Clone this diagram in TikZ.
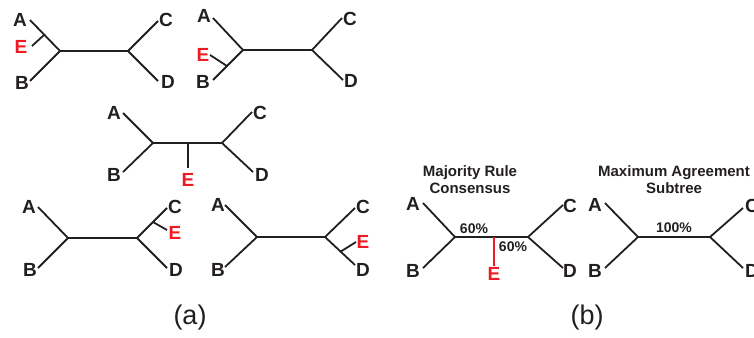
\documentclass[tikz,border=0pt]{standalone}
\usepackage{fontspec}
\setmainfont{Liberation Sans}
\definecolor{ink}{HTML}{231F20}
\definecolor{ered}{HTML}{ED1C24}
\begin{document}
\begin{tikzpicture}[x=1pt,y=-1pt,
  br/.style={draw=ink,line width=1.8pt},
  ebr/.style={draw=ered,line width=1.8pt},
  lab/.style={font=\fontsize{19}{19}\selectfont\bfseries,text=ink,inner sep=0pt},
  elab/.style={font=\fontsize{19}{19}\selectfont\bfseries,text=ered,inner sep=0pt},
  ttl/.style={font=\fontsize{15}{17}\selectfont\bfseries,text=ink,inner sep=0pt,align=center},
  pct/.style={font=\fontsize{14}{14}\selectfont\bfseries,text=ink,inner sep=0pt},
  captxt/.style={font=\fontsize{27}{27}\selectfont,text=ink,inner sep=0pt}]
\useasboundingbox (0,0) rectangle (754,337);
% ---------- tree 1
\coordinate (t1a) at (30,20); \coordinate (t1b) at (30,81);
\coordinate (t1l) at (60,51); \coordinate (t1r) at (128,51);
\coordinate (t1c) at (158,21); \coordinate (t1d) at (158,81);
\coordinate (t1ea) at (44,35); \coordinate (t1e) at (32,46);
\draw[br] (t1a) -- (t1l) -- (t1b); \draw[br] (t1l) -- (t1r);
\draw[br] (t1c) -- (t1r) -- (t1d); \draw[br] (t1ea) -- (t1e);
\node[lab] (l1a) at (20,20) {A}; \node[elab] (l1e) at (21,47) {E};
\node[lab] (l1b) at (22,83) {B}; \node[lab] (l1c) at (166,20) {C};
\node[lab] (l1d) at (168,82) {D};
% ---------- tree 2
\coordinate (t2a) at (213,18); \coordinate (t2b) at (213,80);
\coordinate (t2l) at (243,50); \coordinate (t2r) at (312,50);
\coordinate (t2c) at (342,18); \coordinate (t2d) at (343,80);
\coordinate (t2ea) at (227,66); \coordinate (t2e) at (210,55);
\draw[br] (t2a) -- (t2l) -- (t2b); \draw[br] (t2l) -- (t2r);
\draw[br] (t2c) -- (t2r) -- (t2d); \draw[br] (t2ea) -- (t2e);
\node[lab] (l2a) at (204,16) {A}; \node[elab] (l2e) at (203,55) {E};
\node[lab] (l2b) at (203,82) {B}; \node[lab] (l2c) at (350,19) {C};
\node[lab] (l2d) at (351,81) {D};
% ---------- tree 3
\coordinate (t3a) at (123,113); \coordinate (t3b) at (123,172);
\coordinate (t3l) at (153,143); \coordinate (t3m) at (188,143);
\coordinate (t3r) at (222,143); \coordinate (t3e) at (188,168);
\coordinate (t3c) at (252,112); \coordinate (t3d) at (253,172);
\draw[br] (t3a) -- (t3l) -- (t3b); \draw[br] (t3l) -- (t3r);
\draw[br] (t3c) -- (t3r) -- (t3d); \draw[br] (t3m) -- (t3e);
\node[lab] (l3a) at (114,113) {A}; \node[lab] (l3b) at (114,175) {B};
\node[elab] (l3e) at (188,180) {E};
\node[lab] (l3c) at (260,113) {C}; \node[lab] (l3d) at (262,175) {D};
% ---------- tree 4
\coordinate (t4a) at (38,207); \coordinate (t4b) at (38,268);
\coordinate (t4l) at (68,238); \coordinate (t4r) at (137,238);
\coordinate (t4c) at (167,208); \coordinate (t4d) at (167,268);
\coordinate (t4ea) at (153,222); \coordinate (t4e) at (167,230);
\draw[br] (t4a) -- (t4l) -- (t4b); \draw[br] (t4l) -- (t4r);
\draw[br] (t4c) -- (t4r) -- (t4d); \draw[br] (t4ea) -- (t4e);
\node[lab] (l4a) at (29,207) {A}; \node[lab] (l4b) at (30,270) {B};
\node[lab] (l4c) at (175,207) {C}; \node[elab] (l4e) at (175,233) {E};
\node[lab] (l4d) at (176,270) {D};
% ---------- tree 5
\coordinate (t5a) at (225,205); \coordinate (t5b) at (225,267);
\coordinate (t5l) at (257,237); \coordinate (t5r) at (325,237);
\coordinate (t5c) at (355,208); \coordinate (t5d) at (355,265);
\coordinate (t5ea) at (340,252); \coordinate (t5e) at (356,242);
\draw[br] (t5a) -- (t5l) -- (t5b); \draw[br] (t5l) -- (t5r);
\draw[br] (t5c) -- (t5r) -- (t5d); \draw[br] (t5ea) -- (t5e);
\node[lab] (l5a) at (218,205) {A}; \node[lab] (l5b) at (218,270) {B};
\node[lab] (l5c) at (363,207) {C}; \node[elab] (l5e) at (363,242) {E};
\node[lab] (l5d) at (363,270) {D};
% ---------- majority rule consensus
\node[ttl] (mt) at (470,180) {Majority Rule\\Consensus};
\coordinate (m6a) at (423,203); \coordinate (m6b) at (423,268);
\coordinate (m6l) at (455,237); \coordinate (m6m) at (494,237);
\coordinate (m6r) at (528,237); \coordinate (m6e) at (494,266);
\coordinate (m6c) at (563,205); \coordinate (m6d) at (563,268);
\draw[br] (m6a) -- (m6l) -- (m6b); \draw[br] (m6l) -- (m6r);
\draw[br] (m6c) -- (m6r) -- (m6d); \draw[ebr] (m6m) -- (m6e);
\node[lab] (l6a) at (413,204) {A}; \node[lab] (l6b) at (413,271) {B};
\node[elab] (l6e) at (494,274) {E};
\node[lab] (l6c) at (570,206) {C}; \node[lab] (l6d) at (570,271) {D};
\node[pct] (p6a) at (474,229) {60\%}; \node[pct] (p6b) at (513,247) {60\%};
% ---------- maximum agreement subtree
\node[ttl] (at) at (674,180) {Maximum Agreement\\Subtree};
\coordinate (m7a) at (605,203); \coordinate (m7b) at (605,268);
\coordinate (m7l) at (638,237); \coordinate (m7r) at (710,237);
\coordinate (m7c) at (743,208); \coordinate (m7d) at (743,268);
\draw[br] (m7a) -- (m7l) -- (m7b); \draw[br] (m7l) -- (m7r);
\draw[br] (m7c) -- (m7r) -- (m7d);
\node[lab] (l7a) at (595,205) {A}; \node[lab] (l7b) at (595,271) {B};
\node[lab] (l7c) at (752,206) {C}; \node[lab] (l7d) at (752,271) {D};
\node[pct] (p7) at (674,228) {100\%};
% ---------- captions
\node[captxt] (ca) at (190,318) {(a)};
\node[captxt] (cb) at (587,318) {(b)};
\end{tikzpicture}
\end{document}
